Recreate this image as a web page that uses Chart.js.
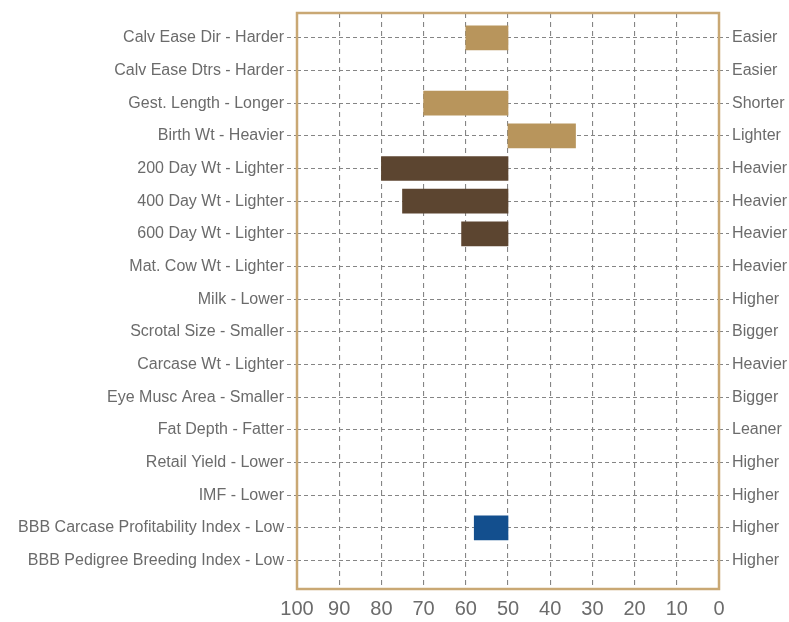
<!DOCTYPE html>
<html>
<head>
<meta charset="utf-8">
<script src="https://cdn.jsdelivr.net/npm/chart.js@4/dist/chart.umd.min.js"></script>
<style>
  html, body { margin: 0; padding: 0; background: #ffffff; }
  #wrap { width: 789px; height: 622px; position: relative; }
</style>
</head>
<body>
<div id="wrap"><canvas id="c" width="789" height="622"></canvas></div>
<script>
// ---- Data ----
const leftLabels = [
  'Calv Ease Dir - Harder',
  'Calv Ease Dtrs - Harder',
  'Gest. Length - Longer',
  'Birth Wt - Heavier',
  '200 Day Wt - Lighter',
  '400 Day Wt - Lighter',
  '600 Day Wt - Lighter',
  'Mat. Cow Wt - Lighter',
  'Milk - Lower',
  'Scrotal Size - Smaller',
  'Carcase Wt - Lighter',
  'Eye Musc Area - Smaller',
  'Fat Depth - Fatter',
  'Retail Yield - Lower',
  'IMF - Lower',
  'BBB Carcase Profitability Index - Low',
  'BBB Pedigree Breeding Index - Low'
];
const rightLabels = [
  'Easier', 'Easier', 'Shorter', 'Lighter', 'Heavier', 'Heavier', 'Heavier',
  'Heavier', 'Higher', 'Bigger', 'Heavier', 'Bigger', 'Leaner', 'Higher',
  'Higher', 'Higher', 'Higher'
];
const barStart = 50;
const barEnd = [60, null, 70, 34, 80, 75, 61, null, null, null, null, null, null, null, null, 58, null];
const barGroup = ['calving', 'calving', 'calving', 'calving', 'growth', 'growth', 'growth', 'growth',
  'growth', 'growth', 'carcase', 'carcase', 'carcase', 'carcase', 'carcase', 'index', 'index'];
const xTicks = [100, 90, 80, 70, 60, 50, 40, 30, 20, 10, 0];

// ---- Styles ----
const groupColors = { calving: '#B8955C', growth: '#5C4530', carcase: '#5C4530', index: '#134F8E' };
const textColor = '#6b6b6b';
const gridColor = '#858585';
const frameColor = '#C9A874';

const points = [];
const colors = [];
barEnd.forEach((v, i) => {
  if (v === null) return;
  points.push({ y: i, x: [barStart, v] });
  colors.push(groupColors[barGroup[i]]);
});
const idx = leftLabels.map((_, i) => i);

const framePlugin = {
  id: 'frame',
  afterDraw(chart) {
    const a = chart.chartArea, ctx = chart.ctx;
    ctx.save();
    ctx.strokeStyle = frameColor;
    ctx.lineWidth = 2.5;
    ctx.strokeRect(a.left, a.top, a.right - a.left, a.bottom - a.top);
    ctx.restore();
  }
};

const yCommon = {
  type: 'linear',
  min: -0.76,
  max: 16.87,
  reverse: true,
  offset: false,
  afterBuildTicks(scale) { scale.ticks = idx.map(v => ({ value: v })); },
  border: { display: false, dash: [4, 3] },
  grid: { offset: false, color: gridColor, lineWidth: 1.1, tickLength: 10, tickBorderDash: [4, 3] },
  ticks: { color: textColor, font: { family: 'Liberation Sans', size: 16 }, padding: 3, autoSkip: false }
};

new Chart(document.getElementById('c'), {
  type: 'bar',
  data: {
    datasets: [{
      data: points,
      backgroundColor: colors,
      borderWidth: 0,
      barThickness: 24
    }]
  },
  options: {
    indexAxis: 'y',
    responsive: false,
    animation: false,
    layout: { padding: { top: 13, right: 0, left: 0, bottom: 0 } },
    plugins: { legend: { display: false }, tooltip: { enabled: false } },
    scales: {
      x: {
        type: 'linear',
        min: 0,
        max: 100,
        reverse: true,
        afterBuildTicks(scale) { scale.ticks = xTicks.map(v => ({ value: v })); },
        afterFit(scale) { scale.height = 33; },
        border: { display: false, dash: [5, 4] },
        grid: { color: gridColor, lineWidth: 1.1, drawTicks: false },
        ticks: { color: textColor, font: { family: 'Liberation Sans', size: 20 }, padding: 8, maxRotation: 0, autoSkip: false }
      },
      y: Object.assign({}, yCommon, {
        position: 'left',
        afterFit(scale) { scale.width = 297; },
        ticks: Object.assign({}, yCommon.ticks, { callback: v => leftLabels[v] })
      }),
      y2: Object.assign({}, yCommon, {
        position: 'right',
        afterFit(scale) { scale.width = 70; },
        grid: Object.assign({}, yCommon.grid, { drawOnChartArea: false }),
        ticks: Object.assign({}, yCommon.ticks, { callback: v => rightLabels[v] })
      })
    }
  },
  plugins: [framePlugin]
});
</script>
</body>
</html>
